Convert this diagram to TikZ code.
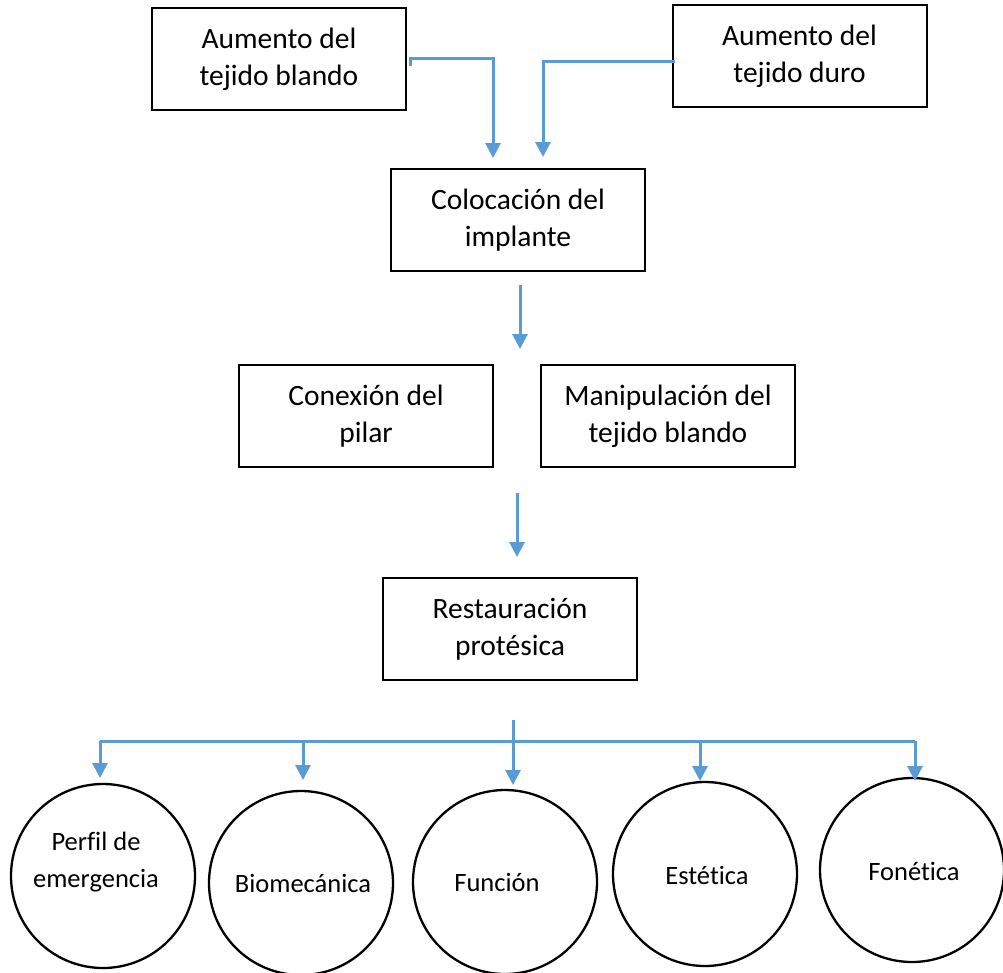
\documentclass[tikz,border=0pt]{standalone}
\usepackage{fontspec}
\setmainfont[Ligatures=NoCommon]{Carlito}
\usetikzlibrary{arrows.meta,calc}
\definecolor{flow}{HTML}{5B9BD5}
\begin{document}
\begin{tikzpicture}[x=1pt,y=-1pt,
  boxnode/.style={draw=black,line width=2pt,minimum width=254pt,minimum height=102pt,inner sep=0pt,align=center,font=\fontsize{29.5}{37}\selectfont},
  circnode/.style={draw=black,line width=2.3pt,circle,minimum size=184pt,inner sep=0pt},
  circtext/.style={align=center,font=\fontsize{26.5}{37}\selectfont,inner sep=0pt},
  flowline/.style={draw=flow,line width=3pt},
  flowarrow/.style={flowline,-{Triangle[length=15pt,width=15pt]}}]
\useasboundingbox (0,0) rectangle (1003,972);
% boxes
\node[boxnode] (a) at (279,59) {Aumento del\\tejido blando};
\node[boxnode] (b) at (799.5,56) {Aumento del\\tejido duro};
\node[boxnode] (c) at (518,220) {Colocación del\\implante};
\node[boxnode] (d) at (366,416) {Conexión del\\pilar};
\node[boxnode] (e) at (668,416) {Manipulación del\\tejido blando};
\node[boxnode] (f) at (510,629) {Restauración\\protésica};
% circles
\node[circnode] (p1) at (103,876) {};
\node[circnode] (p2) at (301,883) {};
\node[circnode] (p3) at (505,882) {};
\node[circnode] (p4) at (705,874) {};
\node[circnode] (p5) at (912,870) {};
\node[circtext] (t1) at (96,862) {Perfil de\\emergencia};
\node[circtext] (t2) at (303,883) {Biomecánica};
\node[circtext] (t3) at (497,882) {Función};
\node[circtext] (t4) at (707,875) {Estética};
\node[circtext] (t5) at (914,871) {Fonética};
% free arrow ends
\coordinate (a0) at (410,66);
\coordinate (a1) at (410,58);
\coordinate (a2) at (493,58);
\coordinate (a3) at (493,158);
\coordinate (b0) at (675,61);
\coordinate (b1) at (543,61);
\coordinate (b2) at (543,157);
\coordinate (c0) at (520,285);
\coordinate (c1) at (520,349);
\coordinate (d0) at (517,493);
\coordinate (d1) at (517,557);
\coordinate (f0) at (513,720);
\coordinate (f1) at (513,785);
\coordinate (hl) at (100,741);
\coordinate (hr) at (915,741);
\coordinate (q1) at (100,778);
\coordinate (q2) at (303,780);
\coordinate (q4) at (700,781);
\coordinate (q5) at (915,781);
% connectors
\draw[flowarrow] (a0) -- (a1) -- (a2) -- (a3);
\draw[flowarrow] (b0) -- (b1) -- (b2);
\draw[flowarrow] (c0) -- (c1);
\draw[flowarrow] (d0) -- (d1);
\draw[flowarrow] (f0) -- (f1);
\draw[flowline] (hl) -- (hr);
\draw[flowarrow] (hl) -- (q1);
\draw[flowarrow] (q2 |- hl) -- (q2);
\draw[flowarrow] (q4 |- hl) -- (q4);
\draw[flowarrow] (hr) -- (q5);
\end{tikzpicture}
\end{document}
